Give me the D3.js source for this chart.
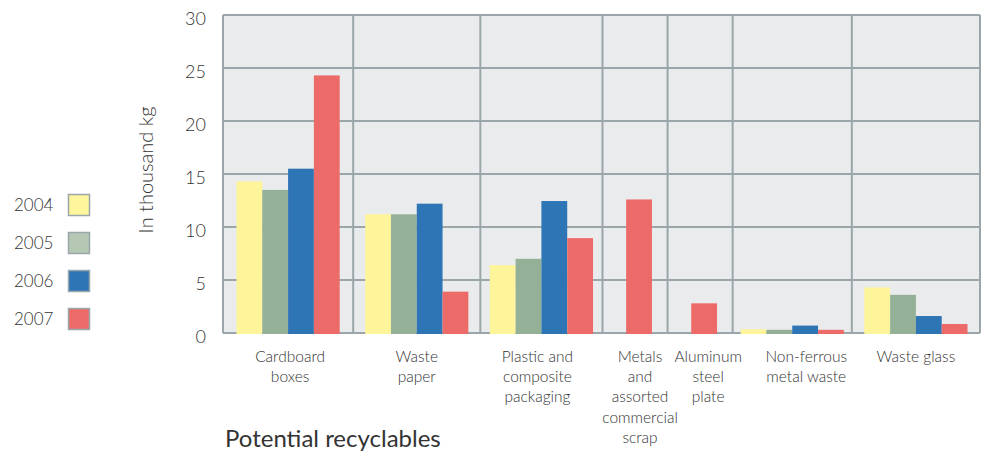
<!DOCTYPE html>
<html>
<head>
<meta charset="utf-8">
<script src="https://cdn.jsdelivr.net/npm/d3@7"></script>
<style>
  body { margin: 0; background: #fff; }
  text { font-family: Lato, "Open Sans", sans-serif; fill: #333; }
</style>
</head>
<body>
<div id="chart"></div>
<script>
const WIDTH = 987;
const HEIGHT = 452;

// data
const categories = [
  ["Cardboard", "boxes"],
  ["Waste", "paper"],
  ["Plastic and", "composite", "packaging"],
  ["Metals", "and", "assorted", "commercial", "scrap"],
  ["Aluminum", "steel", "plate"],
  ["Non-ferrous", "metal waste"],
  ["Waste glass"]
];
const years = ["2004", "2005", "2006", "2007"];
const v2004 = [14.3, 11.2, 6.4, null, null, 0.35, 4.3];
const v2005 = [13.5, 11.2, 7.0, null, null, 0.3, 3.6];
const v2006 = [15.5, 12.2, 12.45, null, null, 0.7, 1.6];
const v2007 = [24.3, 3.9, 8.95, 12.6, 2.8, 0.3, 0.85];
const yTicks = [0, 5, 10, 15, 20, 25, 30];

const series = [v2004, v2005, v2006, v2007];
const colors = ["#fef49a", "#94b097", "#2e75b6", "#ec6b69"];
const legendColors = ["#fff59d", "#b4c8b4", "#2e75b6", "#ec6b69"];

// relative widths of the category cells (narrow ones only hold one bar)
const cellWeights = [130, 127, 122, 65, 65, 119, 128];
const labelShift = [2, 0, -4, 5, 8, 14, 0];

const LEFT = 223, RIGHT = 980, TOP = 15, BOTTOM = 333;
const BAR_W = 25.8;

const svg = d3.select("#chart").append("svg")
  .attr("width", WIDTH).attr("height", HEIGHT);

const edges = d3.cumsum([0].concat(cellWeights));
const x = d3.scaleLinear().domain([0, d3.sum(cellWeights)]).range([LEFT, RIGHT]);
const y = d3.scaleLinear().domain([0, 30]).range([BOTTOM, TOP]);

// plot background
svg.append("rect")
  .attr("x", LEFT).attr("y", TOP)
  .attr("width", RIGHT - LEFT).attr("height", BOTTOM - TOP)
  .attr("fill", "#eaebec");

// horizontal grid
svg.selectAll(".hgrid").data(yTicks).enter()
  .append("line")
  .attr("x1", LEFT).attr("x2", RIGHT)
  .attr("y1", d => y(d)).attr("y2", d => y(d))
  .attr("stroke", "#9aa6a9").attr("stroke-width", 2);

// vertical separators
svg.selectAll(".vgrid").data(edges).enter()
  .append("line")
  .attr("x1", d => x(d)).attr("x2", d => x(d))
  .attr("y1", TOP).attr("y2", BOTTOM)
  .attr("stroke", "#9aa6a9").attr("stroke-width", 2);

// bars
categories.forEach((cat, i) => {
  const present = years.filter((yr, j) => series[j][i] != null);
  const cx = (x(edges[i]) + x(edges[i + 1])) / 2;
  const nudge = present.length === 1 ? 4 : 0;
  const inner = d3.scaleBand().domain(present)
    .range([cx - BAR_W * present.length / 2 + nudge,
            cx + BAR_W * present.length / 2 + nudge]);
  svg.selectAll(".bar-" + i)
    .data(present.map(yr => ({ yr, v: series[years.indexOf(yr)][i] })))
    .enter()
    .append("rect")
    .attr("x", d => inner(d.yr))
    .attr("width", inner.bandwidth())
    .attr("y", d => y(d.v))
    .attr("height", d => y(0) - y(d.v) + 1)
    .attr("fill", d => colors[years.indexOf(d.yr)]);

  const lbl = svg.append("text")
    .attr("x", cx + labelShift[i])
    .attr("y", 362)
    .attr("text-anchor", "middle")
    .attr("font-size", 15.5)
    .attr("font-weight", 300);
  cat.forEach((line, k) => {
    lbl.append("tspan").attr("x", cx + labelShift[i]).attr("dy", k ? 20.2 : 0).text(line);
  });
});

// y axis labels
const yAxis = d3.axisLeft(y).tickValues(yTicks).tickSize(0).tickPadding(0);
const ya = svg.append("g").attr("transform", `translate(${LEFT - 17},4)`).call(yAxis);
ya.select(".domain").remove();
ya.selectAll("text")
  .attr("font-size", 18).attr("font-weight", 300)
  .style("font-family", "Lato, 'Open Sans', sans-serif").attr("fill", "#333");

svg.append("text")
  .attr("transform", `translate(153,170) rotate(-90)`)
  .attr("text-anchor", "middle")
  .attr("font-size", 20).attr("font-weight", 300)
  .text("In thousand kg");

// legend
const legend = svg.selectAll(".legend").data(years).enter()
  .append("g")
  .attr("transform", (d, i) => `translate(0,${194 + i * 38})`);
legend.append("rect")
  .attr("x", 68.5).attr("y", 0.5).attr("width", 21).attr("height", 21)
  .attr("fill", (d, i) => legendColors[i])
  .attr("stroke", "#9aa6a9").attr("stroke-width", 1.5);
legend.append("text")
  .attr("x", 14).attr("y", 17)
  .attr("font-size", 17).attr("font-weight", 300)
  .text(d => d);

svg.append("text")
  .attr("x", 225).attr("y", 447)
  .attr("font-size", 24)
  .text("Potential recyclables");
</script>
</body>
</html>
